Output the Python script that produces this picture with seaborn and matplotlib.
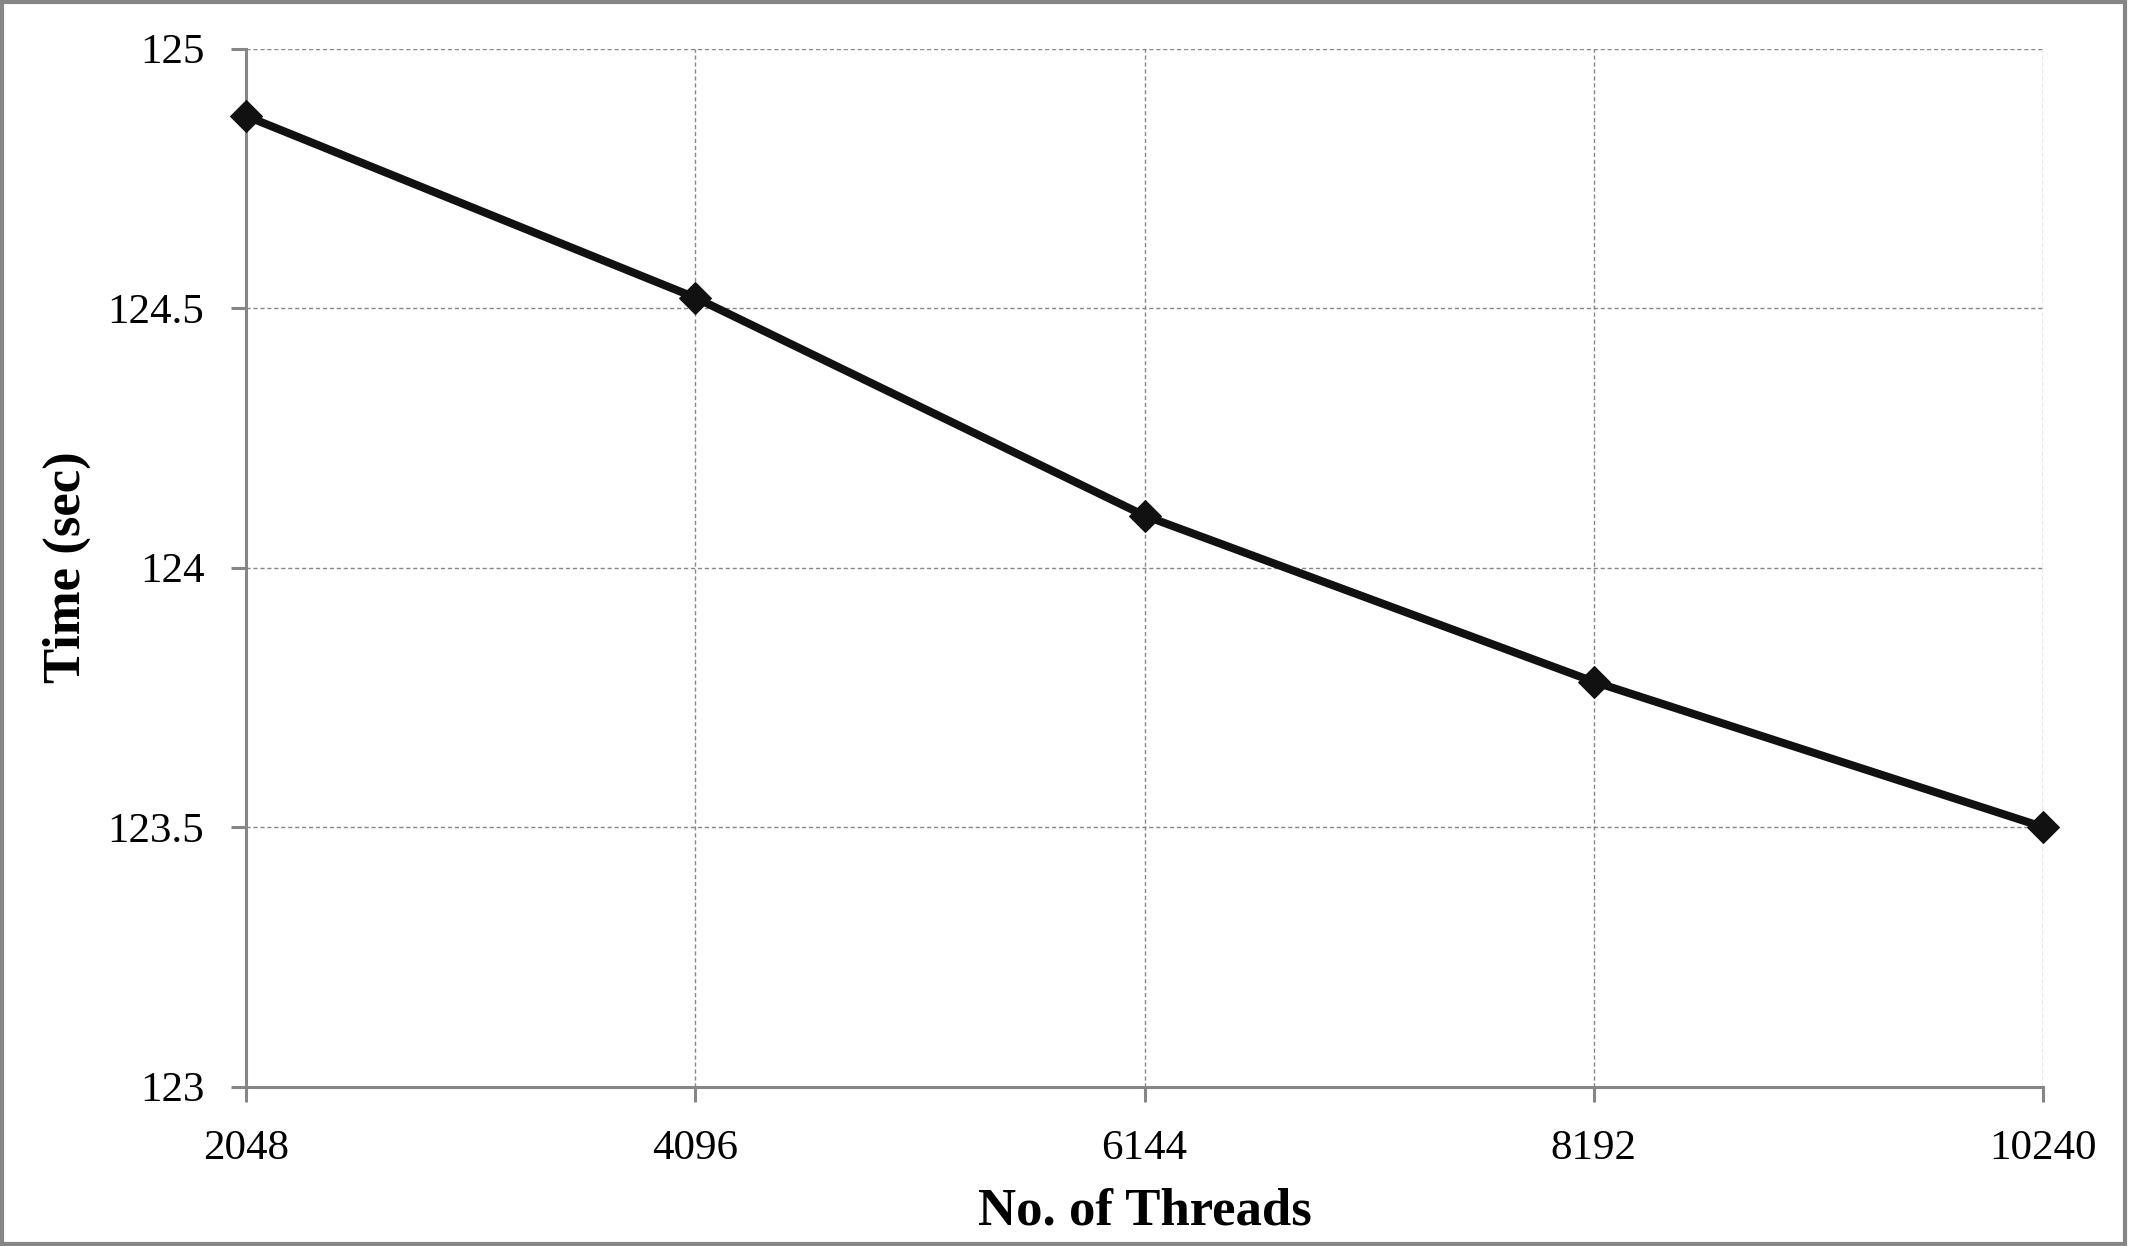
import matplotlib
matplotlib.use('Agg')
import matplotlib.pyplot as plt
import seaborn as sns
import pandas as pd
from matplotlib.patches import Rectangle

threads = [2048, 4096, 6144, 8192, 10240]
times = [124.87, 124.52, 124.10, 123.78, 123.50]
y_ticks = [123, 123.5, 124, 124.5, 125]
y_tick_labels = ['123', '123.5', '124', '124.5', '125']

df = pd.DataFrame({'threads': threads, 'time': times})

sns.set_style('white')
plt.rcParams['font.family'] = ['Liberation Serif', 'DejaVu Serif']
plt.rcParams['text.color'] = 'black'
plt.rcParams['axes.labelcolor'] = 'black'

fig = plt.figure(figsize=(21.29, 12.46), dpi=100)
ax = fig.add_axes([246 / 2129, 1 - 1086.5 / 1246, (2043 - 246) / 2129, (1086.5 - 48.5) / 1246])

sns.lineplot(data=df, x='threads', y='time', ax=ax, color='#111111', linewidth=5.8,
             marker='D', markersize=16, markeredgecolor='#111111', markerfacecolor='#111111',
             clip_on=False, zorder=5)

ax.set_xlim(2048, 10240)
ax.set_ylim(123, 125)
ax.set_xticks(threads)
ax.set_xticklabels([str(t) for t in threads])
ax.set_yticks(y_ticks)
ax.set_yticklabels(y_tick_labels)

ax.grid(True, color='#888888', linestyle=(0, (3, 2)), linewidth=1.0)
ax.set_axisbelow(True)
for side in ['top', 'right']:
    ax.spines[side].set_visible(False)
for side in ['left', 'bottom']:
    ax.spines[side].set_color('#868686')
    ax.spines[side].set_linewidth(2.2)

ax.tick_params(axis='both', which='major', length=11, width=2.2, color='#868686',
               labelsize=31, labelcolor='black', direction='out',
               left=True, bottom=True)
ax.tick_params(axis='x', pad=20)
ax.tick_params(axis='y', pad=19)

ax.set_xlabel('No. of Threads', fontsize=38, fontweight='bold', labelpad=14)
ax.set_ylabel('Time (sec)', fontsize=38, fontweight='bold', labelpad=12)

fig.patches.append(Rectangle((0.001, 0.002), 0.997, 0.996, transform=fig.transFigure,
                             fill=False, edgecolor='#868686', linewidth=3))

fig.savefig('out.png', dpi=100)
